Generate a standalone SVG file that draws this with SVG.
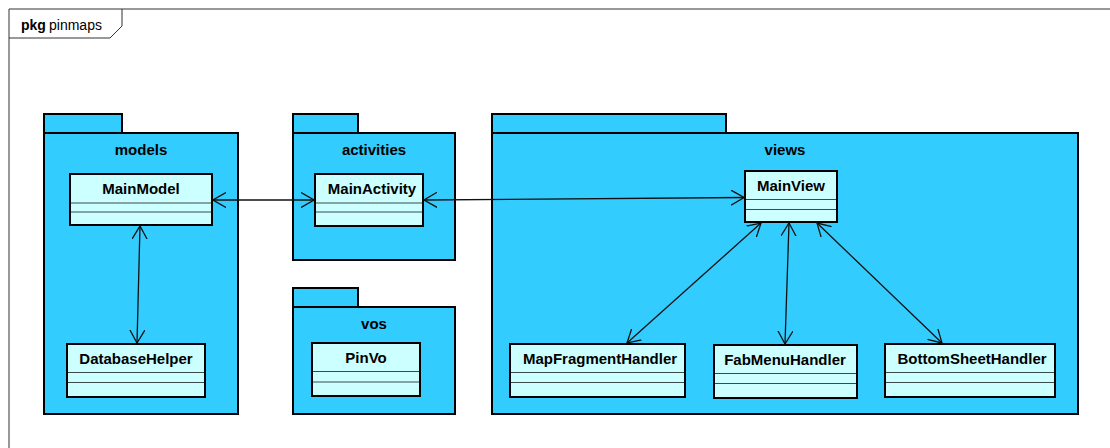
<svg xmlns="http://www.w3.org/2000/svg" width="1110" height="448" viewBox="0 0 1110 448">
  <style>
    .frame { fill: none; stroke: #333333; stroke-width: 1; }
    .pkg { fill: #33CCFF; stroke: #000000; stroke-width: 2; }
    .cls { fill: #CCFFFF; stroke: #000000; stroke-width: 2; }
    .sep { stroke: #3a4a4a; stroke-width: 1.2; }
    .title { font-family: "Liberation Sans", Arial, sans-serif; font-size: 14px; fill: #000000; }
    .name { font-family: "Liberation Sans", Arial, sans-serif; font-size: 15px; font-weight: bold; fill: #000000; text-anchor: middle; }
    .link { fill: none; stroke: #111111; stroke-width: 1.3; marker-start: url(#open); marker-end: url(#open); }
  </style>
  <defs>
    <marker id="open" viewBox="0 0 14 16" refX="13" refY="8" markerWidth="14" markerHeight="16" markerUnits="userSpaceOnUse" orient="auto-start-reverse">
      <path d="M 0 0.5 L 13 8 L 0 15.5" fill="none" stroke="#111111" stroke-width="1.3"/>
    </marker>
  </defs>

  <rect width="1110" height="448" fill="#ffffff"/>

  <!-- diagram frame -->
  <g id="frame">
    <path class="frame" d="M 9 448 V 9 H 1110"/>
    <path class="frame" d="M 9 38 H 110 L 122 26 V 9"/>
    <text class="title" x="21" y="30"><tspan font-weight="bold">pkg</tspan><tspan x="49">pinmaps</tspan></text>
  </g>

  <!-- package: models -->
  <g id="pkg-models">
    <rect class="pkg" x="44" y="114" width="78" height="19"/>
    <rect class="pkg" x="44" y="133" width="194" height="281"/>
    <text class="name" x="141" y="155">models</text>
  </g>

  <!-- package: activities -->
  <g id="pkg-activities">
    <rect class="pkg" x="293" y="114" width="65" height="19"/>
    <rect class="pkg" x="293" y="133" width="162" height="127"/>
    <text class="name" x="374" y="155">activities</text>
  </g>

  <!-- package: vos -->
  <g id="pkg-vos">
    <rect class="pkg" x="293" y="288" width="65" height="19"/>
    <rect class="pkg" x="293" y="307" width="162" height="107"/>
    <text class="name" x="374" y="329">vos</text>
  </g>

  <!-- package: views -->
  <g id="pkg-views">
    <rect class="pkg" x="492" y="114" width="234" height="19"/>
    <rect class="pkg" x="492" y="133" width="586" height="281"/>
    <text class="name" x="785" y="155">views</text>
  </g>

  <!-- classes -->
  <g id="MainModel">
    <rect class="cls" x="70" y="174" width="142" height="51"/>
    <line class="sep" x1="71" y1="203" x2="211" y2="203"/>
    <line class="sep" x1="71" y1="212" x2="211" y2="212"/>
    <text class="name" x="141" y="194">MainModel</text>
  </g>

  <g id="DatabaseHelper">
    <rect class="cls" x="67" y="344" width="138" height="53"/>
    <line class="sep" x1="68" y1="372.5" x2="204" y2="372.5"/>
    <line class="sep" x1="68" y1="382.5" x2="204" y2="382.5"/>
    <text class="name" x="136" y="364">DatabaseHelper</text>
  </g>

  <g id="MainActivity">
    <rect class="cls" x="315" y="174" width="108" height="52"/>
    <line class="sep" x1="316" y1="203" x2="422" y2="203"/>
    <line class="sep" x1="316" y1="212" x2="422" y2="212"/>
    <text class="name" x="372" y="194">MainActivity</text>
  </g>

  <g id="PinVo">
    <rect class="cls" x="312" y="343" width="108" height="53"/>
    <line class="sep" x1="313" y1="371.5" x2="419" y2="371.5"/>
    <line class="sep" x1="313" y1="382" x2="419" y2="382"/>
    <text class="name" x="366" y="363">PinVo</text>
  </g>

  <g id="MainView">
    <rect class="cls" x="745" y="171" width="92" height="51"/>
    <line class="sep" x1="746" y1="199.5" x2="836" y2="199.5"/>
    <line class="sep" x1="746" y1="209.5" x2="836" y2="209.5"/>
    <text class="name" x="791" y="191">MainView</text>
  </g>

  <g id="MapFragmentHandler">
    <rect class="cls" x="510" y="344" width="175" height="53"/>
    <line class="sep" x1="511" y1="372.5" x2="684" y2="372.5"/>
    <line class="sep" x1="511" y1="382.5" x2="684" y2="382.5"/>
    <text class="name" x="600" y="364">MapFragmentHandler</text>
  </g>

  <g id="FabMenuHandler">
    <rect class="cls" x="714" y="345" width="143" height="53"/>
    <line class="sep" x1="715" y1="373.5" x2="856" y2="373.5"/>
    <line class="sep" x1="715" y1="383.5" x2="856" y2="383.5"/>
    <text class="name" x="785" y="365">FabMenuHandler</text>
  </g>

  <g id="BottomSheetHandler">
    <rect class="cls" x="885" y="344" width="170" height="53"/>
    <line class="sep" x1="886" y1="372.5" x2="1054" y2="372.5"/>
    <line class="sep" x1="886" y1="382.5" x2="1054" y2="382.5"/>
    <text class="name" x="972" y="364">BottomSheetHandler</text>
  </g>

  <!-- associations -->
  <g id="connectors">
    <line class="link" x1="213" y1="200" x2="314" y2="200"/>
    <line class="link" x1="424" y1="200" x2="744" y2="197.5"/>
    <line class="link" x1="140" y1="226" x2="137" y2="343"/>
    <line class="link" x1="761" y1="223" x2="627" y2="343"/>
    <line class="link" x1="789" y1="223" x2="785" y2="344"/>
    <line class="link" x1="817" y1="223" x2="942" y2="343"/>
  </g>
</svg>
